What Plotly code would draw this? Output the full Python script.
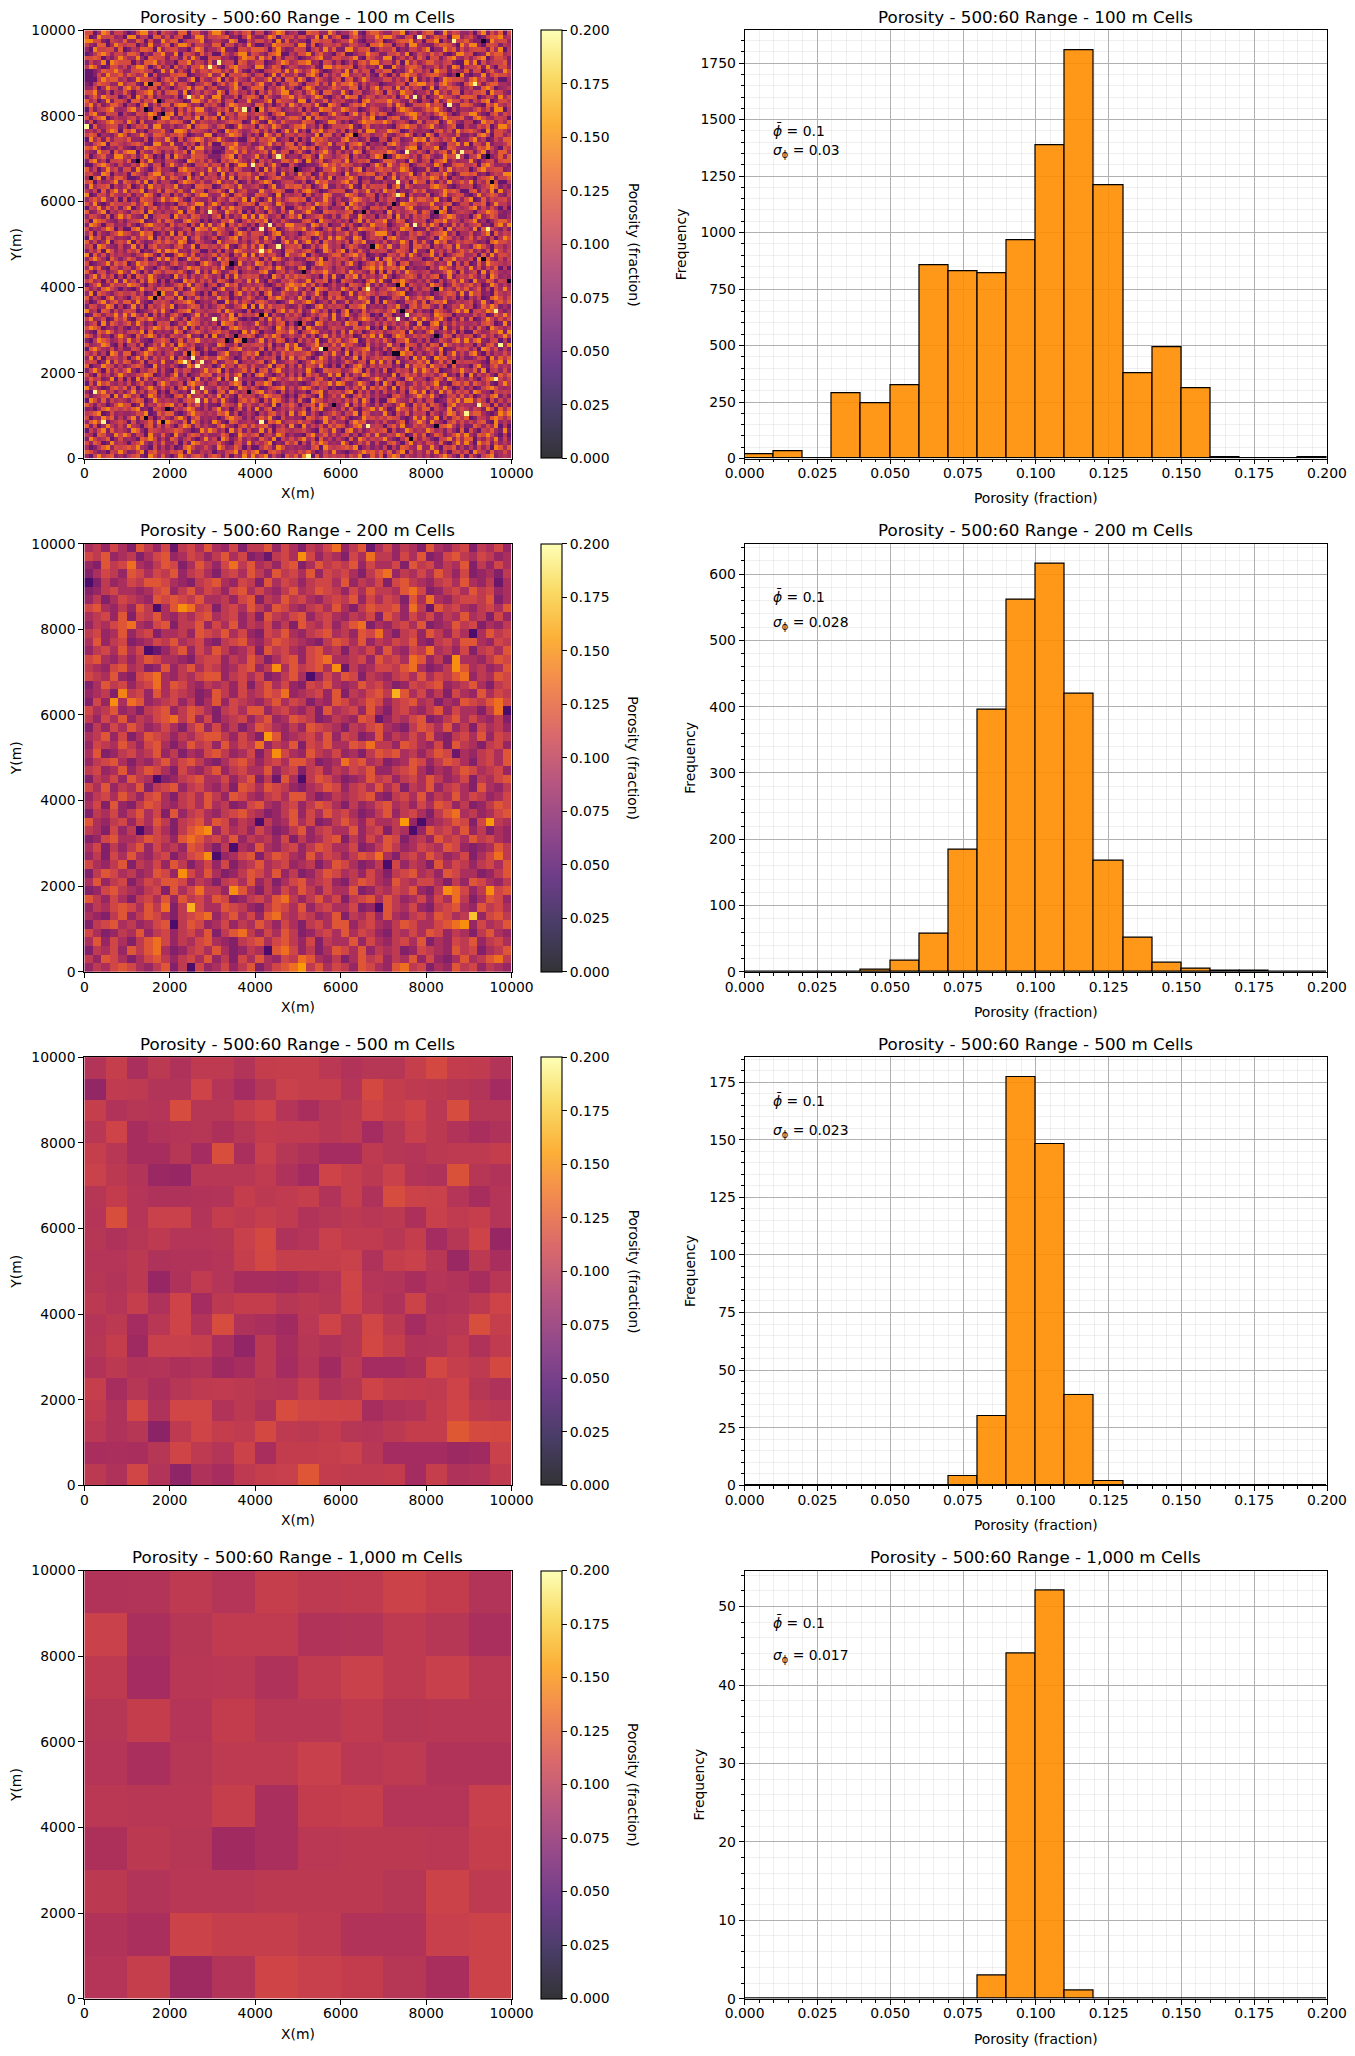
import plotly.graph_objects as go

FIG_W, FIG_H = 1355, 2056

# Layout of the four rows, in pixels
ROW_TOPS = [30.3, 543.7, 1057.1, 1570.5]
AXES_H = 428.2
MAP_X = (84.3, 511.6)
BAR_X = (541.2, 562.4)
HIST_X = (744.6, 1327.0)

CELL_SIZES = [100, 200, 500, 1000]
CELL_LABELS = ["100 m", "200 m", "500 m", "1,000 m"]

# Shade classes used by the two finest grids (porosity, fraction)
SHADES_100 = {"1": .058, "2": .072, "3": .082, "4": .09, "5": .10,
              "6": .108, "7": .115, "8": .125, "9": .145}
SHADES_200 = {"2": .06, "3": .072, "4": .082, "5": .092, "6": .102,
              "7": .112, "8": .122, "9": .136}
BRIGHT = .195
DARK = .012

# 100 m grid, top row first
GRID_100 = """
7714982663 1279936175 4288177326 9951364782 6613798245 1187733962 4479216885 3377914526 8812947633 5169274817
8129667341 9925518837 2671149936 6778231594 2259816673 7734919268 1168425597 9963277148 2486719935 7312688945
9977216548 3386172295 8814667923 5532981174 7746192835 3318867724 6695214478 1247889361 7791532668 4228196773
6328814975 7714293368 1599726643 8817625394 1143987762 9928136657 3376441889 7715629943 2268874195 9931776254
3196677281 2548871936 7733169824 4692217758 8861594237 6615739482 2994778136 5581326647 9133968274 6776284915
1258973664 8861427793 3917752846 1185369927 6427891153 7792684316 8113559762 2668491375 4857213996 7123968845
7787142596 4493187762 6628395117 7734216988 3958172664 1246893377 5579218643 9914637285 1772589436 3689147752
2634919877 7152889463 4177936528 2956618734 7712369845 8893417625 1362785994 6628194735 8854672119 4917356682
5983127746 2699714835 1846277953 7315896642 9924871365 3347219968 7781563429 1195378862 4473629815 6682941773
1124877963 3778651294 9263184775 8847396215 2156783949 7469831256 3928477165 8813269574 6197725438 2771584396
1127396684 8645917233 7788124569 3491766852 6713928447 2289517364 9945637218 4162897735 7885413692 1339268775
1116978845 2397764158 5822691743 6917385428 4469271883 9713864257 1782596334 7736481925 2614987763 8957326114
2158763394 6721948835 9376214587 1584792663 7932615488 4166837295 8897263541 2346718899 5738964217 9172688443
3371496628 9583277164 1467938825 7223695148 8815479362 1697243586 4488152793 7729384651 3916587724 6228971345
7793261548 4156893727 8829146375 3961784526 1738469925 6279518843 9416723586 1853976244 7294638815 4778196632
2584976613 7196382544 3617885942 9924371688 6185327794 7536982146 2988147635 6471593827 1359764288 8713652947
8461392775 1883769426 7541299638 5826714493 3479186652 9917348265 6324189577 7966328415 4182597736 2648913775
6937248851 5417926388 2899634175 7316985542 8825147396 3674921985 1268793544 4839612777 9576143288 7321869546
1725689434 8946317725 6173859942 4758296316 1937862454 7162398845 9855124763 2417986335 8796315244 3684729915
4893276615 3276598148 9184627763 2917638845 7641589233 4838712695 3169472858 7124589963 5379841266 9942168375
7268913544 6735481299 3527749186 8193647725 2974153688 6192875346 7754386912 1688237945 4125967783 2897436651
2714589763 9618234775 8872193654 5346877129 7219638544 3876124995 2413698877 9735641282 6681497325 5129783648
9183467725 1476829933 5246917885 3782149656 1864973258 8945271366 6792158343 4216897735 7942368115 3375814996
4536279818 7924156683 1998376542 6219785347 8372615949 2518694773 7163829945 5987126434 3168472957 8641927753
6871432597 2459638874 7685124399 1436987252 5197382664 7643918825 1892476355 8325796141 9716543822 4289617735
1947283665 8332716549 4172689835 7953241168 3768924517 1529786343 8945237116 6177234989 2864759133 7935126488
3268917754 5786219943 9227461738 1186794352 2569473881 7413865926 6278951434 1896347725 8542176939 1763924458
8795124363 2143987566 6831729945 2216985743 7935214688 4968157322 9174628355 7325489916 5691287433 2487963175
5329671848 9917438625 3758196624 1127694835 4682937715 8316479526 2539814767 6983125474 1747829356 7269153884
7146832995 4725961318 1964387752 2268917345 9351678244 2784196535 7816342698 3159874627 8423967151 5691724838
2893516674 8157393426 6421985737 3175896428 1746238859 6193582477 4925768113 8873419625 7168925344 9314672788
1158974263 3649827715 9537216684 7628149935 6825941173 1122379685 8763421596 2954871367 4396127885 5718963342
8361495727 7295316844 2189764539 4957286331 7193825468 1346127795 3628915478 6745983122 8217394656 1489567723
6732981545 1864279935 7356814926 5192637784 3846719252 9571283664 1934768825 7283569148 2675941388 7823146599
4279163885 1126587493 8741936265 6382917574 9125784336 7848263915 5796134288 1492637857 6983715424 3157892668
7815346928 6483917255 2169874733 7935481262 4798125663 2613978445 8947156232 5338461977 1726394585 9264837115
2946781535 8137295646 5924318877 1278639445 6315924878 8471369225 3592184766 7169285344 4897621355 6135798242
5361827949 3769154828 7483296615 6841925733 2954786116 3896412577 7128459363 9671324858 2345978611 7826491935
9127638544 7254983166 1638527994 3496178522 8763192545 6172549833 4986237715 2587916343 8136945772 1494687326
3685942717 1428763595 8962174336 2753864919 5149273688 7816349525 2379854616 4761329588 6592418737 9128365674
"""

GRID_100 += """
7492138665 5836971242 3178469925 9624315787 1875296346 4263978515 8197463252 3612987745 5934781266 2768149553
1659384727 9147268353 6823791548 4185967322 7396428115 8579136244 2948631775 7165489323 3782916545 8926374151
8237915464 2768194535 4591872636 7329648151 6418527393 3694218775 5781396244 1936457828 7249813565 4156987323
3764281595 8432915676 1956387442 6817254939 2973461585 9145783262 7832964515 4819362757 6125798434 1793586224
6198743252 5679124838 7328965141 4276931585 8691537422 2784196535 3516928477 9248713656 1387946525 7924136885
2985167343 7314896552 8465172939 3691748525 1738264996 6529847133 8472153966 7135692848 4961528373 5682317949
7243698151 1892536747 5236719884 9763482151 4527913686 7936215848 2164987735 6354987122 8247193665 3918764252
4816325797 6349781252 9182637545 2854169737 7613892454 1478963525 5837214699 9416327585 2578936144 7236918465
1957286343 2846591737 3769158424 7135892646 6294718353 5861273949 7329814656 1895347622 4619873525 8374261597
8362491575 9174236858 6498127533 1946783525 8375216949 2693718546 4718692353 7254961838 3196824757 6423189775
5719843262 3927168454 2683491775 6479215838 3914582676 8127369545 1586324797 4932761885 7153682944 2897416535
2648197353 7581326949 8934276115 2716398545 7269431885 4685129737 9173842656 6248751933 1946372585 8352719646
9183726454 4256983171 1697382545 8375164929 2846731955 7916423588 3689571242 1764839525 5927136884 4618293775
3796418525 8623714959 4712968335 1958327646 6173984252 3278591646 7526483191 8947326551 2381769454 7195842636
7124593868 1397856242 6845231797 4287619353 9836142575 5312897646 2794136858 3961782445 8635491727 1283976545
4958217636 6279431585 2136978454 7492163585 1578396242 8916347525 6423178959 5786914233 1649852773 9372648151
8316724595 3951628747 7584139262 9623781454 4892157363 2148679535 7395642818 1827396545 6234795183 5719286434
2693847151 7186495323 1947263585 3518294676 7241963858 6753418292 1869274535 9413578626 4781392565 8526197343
6845173929 4628397151 5219683747 2874156393 9317426585 3492768151 8652317949 2187964353 7316258494 1943872657
1479238565 9873164252 3684927515 7139682454 5621374898 7948251363 4187539262 6328917545 2975138646 8461297353
7352896414 2149563878 8271396545 1693472858 3857214969 4261987353 9736184525 5894271636 7219463858 3582617494
3918642575 5736128494 4926783151 8245179363 6179238545 2835941767 1392758646 7468912353 4135687292 9672318545
8264179353 1685492737 7291538464 3967142585 2418697353 9517362848 6243985171 1276394585 8923746151 5361289747
5127936848 8394216575 2568971343 6119483752 7863412595 4796135282 3825469171 9541276838 1687923545 7249316858
2763498151 3926174585 9143687252 4783256919 1948567323 7312894656 5176892434 2659317848 8427136595 6138597242
9451872636 7612358494 1378926545 5829643171 3265179484 8249736151 6914283575 4793168252 3186427959 1675983424
1287365949 4953817262 6841259373 2374918565 8591632747 5136478292 7942586131 8613294575 5298761434 3746128595
6934712858 2178695343 9527186434 7465982131 1729483565 3684175292 4163798525 2857316949 6379415282 8125963747
3571928646 8395241767 1264987353 5198726434 9426378151 6721983545 2978145363 7463582191 1892637454 4537861292
7986134252 1427369858 5839172646 3612897545 2754196383 8196342575 5328769141 9137462858 4761925383 6284197535
4218697353 6759182434 2971468535 7856231949 6143287595 1579834262 8294613757 3576819242 7924638151 1853476929
8627341595 3184796252 7546923181 9237415686 1385972464 4826159373 7461285939 2169834757 5392871646 7138462595
2159863474 9473215686 1382769545 4675198232 5926387141 7364912858 3589127464 8416793252 6127538949 4893267151
7345982161 5628137494 8197462353 2984371656 7638142959 1257936484 9674218353 4935187626 2871964535 5162783949
1896437252 2761398545 4953681272 6321789454 3817265949 9428713656 1735689242 7286491535 8549123767 3619847252
6472519838 8146973525 7328596141 1579342686 9142638575 5683127494 2917485363 1364978252 4728159363 8931625474
3928175646 1593827464 9174263585 5986412737 2465718393 7831496252 6249183575 8752361949 3197846252 2476193858
5761392848 7248165393 2695817434 8237691454 6814923575 1369785242 4852671939 3719246585 9148372656 6542187939
8134976252 4786219353 6312978545 1495628737 4359178262 8276493151 7138952646 5624193878 2965718343 1793268454
2695183747 9315478262 1847623595 7916245838 1782694353 5394128767 3469817252 8137562949 7481236595 4829156373
7318462595 3467981252 5926134878 2648379151 8953147262 6185723949 1726498353 4291685737 5637924181 9264731858
4856239171 6192837545 8743619252 5918276343 2317964585 9642783151 5874123696 2763189454 1486297353 7315892646
1729684353 7258341696 3461897525 6243798151 7698125434 2137856949 8325974161 9518623747 4692317858 3864721595
9463127858 2814695373 6179382454 3856129747 4125789363 7984265131 1637492858 6291738545 8374951262 5126897434
3187946252 5936278141 7524186393 1782963585 8936417252 3417892656 4891736252 7352618949 1629483757 2984317565
6245781939 8461397252 1783945626 4927318565 2598673141 6853192474 9216847353 3178524696 5941267383 7136489252
1973826454 2687139545 4526871393 7394216858 5173984262 8219763545 3748296151 1895437262 6712385949 9485172636
8526413797 7139254868 9361748252 2186539474 3742916585 1568297343 5917384262 7426931858 2863179454 4397618252
2314896757 5892317646 1647983252 6935148272 9268135474 4718692353 7283156949 5129763848 8164392575 3652971848
5689127343 3476912858 8213796545 4879261353 1537846292 7926314585 2659187343 9317482656 1742598363 6884213979
7143968252 6928351474 2795168343 4138976252 6859217343 3187469525 8412396757 5876213949 3491627858 1265389747
3896214575 1724583969 7538196242 9621873454 2418793565 8563129474 4169782353 7325814696 2953168474 6478219353
8271495363 9541682737 4169827353 2795316848 5783146292 1936472858 7248931565 1684923757 4317895262 2863749151
1637928454 2983176545 6874312959 7351948262 3928167545 5742186393 1893624757 8162397454 9745263181 7316584292
5418732969 7265194383 1942687353 3486129757 8156397242 2179458363 6725148393 3659712848 1386247959 4287963151
2964581373 4318796252 8625731494 6197248353 2853916474 7946183525 3182974656 9421586737 5216793848 8153749262
7386129454 1579426383 3716298545 5842167393 6479132858 1628597343 9513748262 2784169353 7638215949 4196827353
4125893767 8694317252 5128963474 2973486151 1586297343 4327819656 7869135242 6152874393 3941768252 5273619848
8742316595 2369178454 7681932545 1436792858 9217863454 7584126393 2134697858 4826917353 8392516747 1965283474
3169578242 5782196383 1495378626 8627153949 4792631858 3941827565 6375912848 1798264353 5247963181 7316892454
"""

# Cells far outside the usual spread, as (column, row from the top)
BRIGHT_100 = [(29,8),(31,7),(24,15),(37,18),(0,22),(45,29),(39,31),(29,42),(43,45),(41,46),
              (78,1),(86,2),(91,12),(77,15),(85,17),(75,28),(88,28),(87,29),(73,35),(73,38),(77,45),(94,46),
              (30,67),(23,77),(25,76),(26,78),(27,77),(35,81),(27,83),(25,84),(2,84),(26,86),(4,91),(41,91),(45,50),(41,51),
              (66,60),(96,65),(75,66),(73,67),(97,73),(55,74),(96,81),(92,87),(89,89),(66,92),(52,99)]
DARK_100 = [(15,12),(17,16),(14,18),(40,18),(18,19),(16,20),(12,30),(1,34),(49,32),
            (93,2),(87,10),(63,24),(70,29),(94,29),(95,35),(72,40),(65,42),(82,42),
            (34,54),(17,61),(16,62),(41,66),(35,71),(33,72),(37,72),(24,75),(38,84),(19,88),(14,90),(18,91),
            (67,50),(93,53),(51,56),(99,58),(73,59),(82,60),(74,65),(50,68),(82,71),(56,74),(72,75),(73,75),(86,77),(58,87),(82,92),(76,95)]

# 200 m grid, top row first
GRID_200 = """
56475 38647 26758 54736 68475 36579 46825 74653 85467 36574
76845 63578 45764 68573 42675 87465 37596 64758 34786 57645
43867 95468 73586 47968 56478 35867 68475 57386 74658 36475
35764 87576 84675 36758 64867 58476 75368 94657 58647 34536
23645 76887 54367 85476 38576 46775 84657 37865 46758 54625
34675 54578 46857 64785 75468 56876 47586 65897 34675 86745
46357 65487 87685 56478 36586 75467 68475 76385 95467 76835
78546 48675 84967 36758 64875 46758 53687 78496 28675 46758
56748 37685 46578 56746 38657 84675 46573 86475 74658 56374
46578 95478 36684 75846 57463 86574 68935 46758 34586 73546
67458 46735 56487 68574 37685 46785 64879 53674 86475 25867
58467 34576 85674 36785 46876 54368 75846 57684 36758 85476
46758 57324 68475 86457 38675 47856 36574 85476 95647 36758
78546 46875 54367 74658 63578 47895 56748 67598 46375 54687
65478 56348 46857 64578 46758 67853 26457 76895 34678 56458
76584 37895 46578 84675 73468 56475 87365 46758 57689 46587
35867 46795 87546 56473 68574 37685 45867 53476 78456 85367
45638 67485 76534 86475 68794 56748 36578 64857 46375 48576
37485 98456 74635 84765 46857 63548 75687 46785 63548 76897
75684 53678 46875 36758 84675 46385 67485 36754 68475 53692
64758 46578 96847 35674 68458 76346 54872 46578 34685 75463
36475 86457 53684 74635 87546 48765 36578 54368 75846 37564
56847 35876 46578 86475 39845 67584 76348 46575 84367 58476
47658 64785 35867 48576 94658 37685 58796 64875 47386 53674
58346 75684 63547 86457 36875 48657 45368 78564 68725 46758
46785 35468 57864 35786 46758 86345 97856 34587 46875 36758
67458 46875 37546 84675 58467 36746 57684 46785 35468 75674
36574 86573 46785 57468 36285 46875 34586 74675 86457 36578
75846 58367 84675 46387 58764 35687 46758 57365 84675 38546
46758 64785 36758 64875 46758 85346 56784 36758 46585 76457
57384 36875 46758 56347 85467 46875 36457 85647 58746 34687
36574 68573 84675 46786 53468 47586 75346 84675 36895 64578
85467 47586 36785 87465 36458 57346 86475 56748 45687 37865
65374 68475 36895 47564 75346 84675 58467 36574 86758 46354
34785 56876 48986 75846 56473 64578 36475 87356 48675 86754
57364 68475 64875 36754 85467 46875 57346 86457 65874 34586
46375 85467 35786 64578 36875 48576 46879 53675 86457 35796
75468 36574 86357 47356 85674 56358 75346 87465 38576 46758
36875 64587 46758 53468 75846 34687 56475 36785 64875 53468
58467 35768 87465 36758 46357 85674 36875 48657 75364 87546
34786 54673 85796 64785 36475 86475 58346 57684 36897 46578
86475 36758 48675 87346 75896 46857 36785 86457 47596 35874
46578 75869 36475 58764 36875 84675 57346 86574 36785 48675
54368 46875 36789 46857 48965 76458 36574 85467 58756 34786
36785 64578 36874 57465 86475 36758 84675 46875 57896 47568
75346 58467 46758 36896 47586 34675 85764 36575 87465 36854
58475 36897 46578 54367 85786 47365 58475 46758 35476 84675
36574 86895 34675 85346 57897 46358 75846 56347 65486 73568
64875 35786 46758 46375 85476 98546 35867 46584 74358 56896
46578 75468 36874 57468 35789 46857 64875 48967 35486 74654
"""

ORANGE_200 = [(45,43),(36,17),(12,42),(22,14),(43,13),(43,14),(29,14),(11,7),(21,22),(22,24),(37,32),(47,32),
              (14,33),(14,36),(11,38),(17,40),(42,40),(47,40),(25,49),(44,44),(25,1),(3,18),(4,17)]
ORANGE_200_VALUES = [.172,.165,.165,.15,.15,.15,.15,.15,.155,.15,.155,.155,
                     .15,.15,.15,.15,.15,.15,.155,.15,.15,.15,.145]
DARK_200 = [(7,12),(8,7),(8,27),(26,15),(25,27),(6,33),(15,36),(17,35),(20,32),(38,33),(39,32),(45,10),
            (0,4),(10,44),(12,49),(21,47),(34,42),(35,37),(49,19)]

# 500 m grid in thousandths, top row first
GRID_500 = [
    [96,106,92,101,94,102,102,96,105,106,106,100,95,98,98,106,114,104,103,96],
    [80,103,102,96,96,110,97,89,98,108,106,106,97,114,105,102,101,98,96,88],
    [106,95,98,97,116,98,98,105,110,97,91,98,101,110,106,110,100,116,98,98],
    [99,110,90,95,97,98,93,98,104,103,103,99,102,89,98,107,101,95,91,94],
    [106,99,90,90,98,89,117,92,107,98,94,89,89,102,98,97,101,102,102,105],
    [108,101,96,83,82,99,99,99,103,94,88,110,106,101,108,96,94,119,98,95],
    [98,104,97,94,94,95,96,105,101,103,106,95,106,94,116,109,108,97,90,97],
    [97,117,97,108,108,96,105,102,106,103,95,98,101,99,101,93,107,103,106,97],
    [98,94,98,102,97,97,98,107,114,94,97,107,103,103,99,105,89,98,110,82],
    [97,97,101,94,95,95,97,106,113,106,106,106,108,94,106,108,99,83,101,91],
    [98,96,101,82,94,103,97,90,90,89,93,97,111,97,96,91,97,95,90,99],
    [101,97,106,94,110,89,101,105,105,98,101,98,110,99,94,109,94,96,101,110],
    [97,101,89,99,110,95,116,94,92,87,100,110,98,112,101,89,97,99,117,106],
    [98,105,86,107,107,106,92,79,101,90,98,94,98,113,106,95,96,103,94,103],
    [95,101,95,96,93,95,86,90,101,89,97,87,101,89,89,93,113,106,102,114],
    [106,90,98,92,98,102,103,101,98,97,106,94,98,110,105,104,103,110,98,94],
    [103,94,113,94,112,112,95,101,94,116,112,111,110,90,94,96,104,111,102,100],
    [100,94,98,77,102,111,105,103,114,102,101,104,98,97,101,105,105,123,115,114],
    [91,92,91,98,111,102,97,109,91,104,104,106,108,99,89,89,89,85,87,108],
    [101,94,112,96,78,94,90,102,106,107,122,104,103,103,104,89,106,94,96,103],
]

# 1,000 m grid in thousandths, top row first
GRID_1000 = [
    [95,96,102,97,106,102,103,109,104,96],
    [108,92,98,103,103,95,96,102,98,92],
    [102,89,99,100,94,103,108,102,107,100],
    [98,105,97,104,99,99,103,98,99,99],
    [97,92,98,102,102,107,100,102,95,95],
    [100,99,99,106,92,104,106,97,97,107],
    [93,101,98,87,92,100,101,101,100,106],
    [101,96,99,99,101,101,101,98,109,102],
    [95,92,109,106,106,102,95,95,107,109],
    [97,106,86,96,111,107,104,98,91,109],
]

# Histogram counts per 0.01 wide bin from 0.00 to 0.20
BIN_STARTS = [0.00, 0.01, 0.02, 0.03, 0.04, 0.05, 0.06, 0.07, 0.08, 0.09,
              0.10, 0.11, 0.12, 0.13, 0.14, 0.15, 0.16, 0.17, 0.18, 0.19]
COUNTS_100 = [17, 30, 0, 290, 245, 325, 855, 828, 820, 965, 1385, 1805, 1210, 375, 490, 312, 4, 3, 3, 4]
COUNTS_200 = [0, 0, 0, 0, 4, 17, 58, 185, 396, 562, 615, 420, 168, 52, 14, 5, 2, 2, 0, 0]
COUNTS_500 = [0, 0, 0, 0, 0, 0, 0, 4, 30, 177, 148, 39, 2, 0, 0, 0, 0, 0, 0, 0]
COUNTS_1000 = [0, 0, 0, 0, 0, 0, 0, 0, 3, 44, 52, 1, 0, 0, 0, 0, 0, 0, 0, 0]
ALL_COUNTS = [COUNTS_100, COUNTS_200, COUNTS_500, COUNTS_1000]

MEANS = ["0.1", "0.1", "0.1", "0.1"]
STDEVS = ["0.03", "0.028", "0.023", "0.017"]
MEAN_LABEL_Y = [1430, 560, 165, 47.4]
STD_LABEL_Y = [1345, 520, 152, 43.2]
Y_MAJOR = [250, 100, 25, 10]
Y_MINOR = [50, 20, 5, 2]

INFERNO = ["#000004", "#1b0c41", "#4a0c6b", "#781c6d", "#a52c60",
           "#cf4446", "#ed6925", "#fb9b06", "#f7d13d", "#fcffa4"]
BAR_ALPHA = 0.8


def washed(hex_color, alpha):
    rgb = [int(hex_color[i:i + 2], 16) for i in (1, 3, 5)]
    return "rgb(%d,%d,%d)" % tuple(round(c * alpha + 255 * (1 - alpha)) for c in rgb)


MAP_SCALE = [[i / 9, c] for i, c in enumerate(INFERNO)]
BAR_SCALE = [[i / 9, washed(c, BAR_ALPHA)] for i, c in enumerate(INFERNO)]


def decode(text, size, shades):
    rows = []
    for line in text.split("\n"):
        digits = line.replace(" ", "")
        if digits:
            digits = (digits + "6" * size)[:size]
            rows.append([shades[ch] for ch in digits])
    return rows[:size]


z_100 = decode(GRID_100, 100, SHADES_100)
for col, row in BRIGHT_100:
    z_100[row][col] = BRIGHT
for col, row in DARK_100:
    z_100[row][col] = DARK

z_200 = decode(GRID_200, 50, SHADES_200)
for (col, row), value in zip(ORANGE_200, ORANGE_200_VALUES):
    z_200[row][col] = value
for col, row in DARK_200:
    z_200[row][col] = .045

z_500 = [[v / 1000 for v in row] for row in GRID_500]
z_1000 = [[v / 1000 for v in row] for row in GRID_1000]
ALL_GRIDS = [z_100, z_200, z_500, z_1000]


def xfrac(px):
    return px / FIG_W


def yfrac(px):
    return 1 - px / FIG_H


TICK_FONT = dict(family="DejaVu Sans", size=13.9, color="black")
LABEL_FONT = dict(family="DejaVu Sans", size=13.9, color="black")
AXIS_STYLE = dict(showline=True, mirror=True, linecolor="black", linewidth=1.1,
                  ticks="outside", ticklen=4.9, tickwidth=1.1, tickcolor="black",
                  tickfont=TICK_FONT, zeroline=False)
MAJOR_GRID = "#b0b0b0"
MINOR_GRID = "rgba(176,176,176,0.2)"

fig = go.Figure()
layout = dict(width=FIG_W, height=FIG_H, autosize=False, paper_bgcolor="white",
              plot_bgcolor="white", margin=dict(l=0, r=0, t=0, b=0, pad=0, autoexpand=False),
              showlegend=False, bargap=0, font=dict(family="DejaVu Sans", color="black"))
notes = []

for i in range(4):
    top = ROW_TOPS[i]
    domain_y = [yfrac(top + AXES_H), yfrac(top)]
    title = f"Porosity - 500:60 Range - {CELL_LABELS[i]} Cells"
    xm, ym = f"x{2 * i + 1}", f"y{2 * i + 1}"
    xh, yh = f"x{2 * i + 2}", f"y{2 * i + 2}"
    cell = CELL_SIZES[i]

    # Porosity map, stored top row first
    fig.add_trace(go.Heatmap(z=ALL_GRIDS[i][::-1], x0=cell / 2, dx=cell, y0=cell / 2, dy=cell,
                             zmin=0, zmax=0.2, colorscale=MAP_SCALE, showscale=False,
                             xaxis=xm, yaxis=ym, hoverinfo="skip"))

    # The colour bar is paler than the map, so it hangs off its own hidden marker
    fig.add_trace(go.Scatter(x=[5000], y=[5000], mode="markers", xaxis=xm, yaxis=ym, hoverinfo="skip",
                             marker=dict(size=1, opacity=0, color=[0.1], cmin=0, cmax=0.2,
                                         colorscale=BAR_SCALE, showscale=True,
                                         colorbar=dict(x=xfrac(BAR_X[0]), xanchor="left", xpad=0, ypad=0,
                                                       y=yfrac(top + AXES_H / 2), yanchor="middle",
                                                       len=AXES_H / FIG_H, lenmode="fraction",
                                                       thickness=BAR_X[1] - BAR_X[0], thicknessmode="pixels",
                                                       outlinecolor="black", outlinewidth=1.1,
                                                       tick0=0, dtick=0.025, tickformat=".3f",
                                                       ticks="outside", ticklen=4.9, tickwidth=1.1,
                                                       tickcolor="black", tickfont=TICK_FONT))))

    # Frequency histogram
    counts = ALL_COUNTS[i]
    fig.add_trace(go.Bar(x=[s + 0.005 for s in BIN_STARTS], y=counts, width=0.01,
                         marker=dict(color="rgba(255,140,0,0.9)", line=dict(color="black", width=1.2)),
                         xaxis=xh, yaxis=yh, hoverinfo="skip"))

    layout[f"xaxis{2 * i + 1}"] = dict(domain=[xfrac(MAP_X[0]), xfrac(MAP_X[1])], range=[0, 10000],
                                       anchor=ym, dtick=2000, tickformat="d", showgrid=False,
                                       ticklabelstandoff=-3,
                                       title=dict(text="X(m)", font=LABEL_FONT, standoff=8), **AXIS_STYLE)
    layout[f"yaxis{2 * i + 1}"] = dict(domain=domain_y, range=[0, 10000], anchor=xm, dtick=2000,
                                       tickformat="d", showgrid=False,
                                       title=dict(text="Y(m)", font=LABEL_FONT, standoff=6), **AXIS_STYLE)
    layout[f"xaxis{2 * i + 2}"] = dict(domain=[xfrac(HIST_X[0]), xfrac(HIST_X[1])], range=[0, 0.2],
                                       anchor=yh, tick0=0, dtick=0.025, tickformat=".3f",
                                       showgrid=True, gridcolor=MAJOR_GRID, gridwidth=1.4,
                                       ticklabelstandoff=-3,
                                       minor=dict(dtick=0.005, tick0=0, showgrid=True, gridcolor=MINOR_GRID,
                                                  gridwidth=1.4, ticks="outside", ticklen=2.8,
                                                  tickwidth=0.8, tickcolor="black"),
                                       title=dict(text="Porosity (fraction)", font=LABEL_FONT, standoff=13),
                                       **AXIS_STYLE)
    layout[f"yaxis{2 * i + 2}"] = dict(domain=domain_y, range=[0, max(counts) * 1.05], anchor=xh,
                                       tick0=0, dtick=Y_MAJOR[i],
                                       showgrid=True, gridcolor=MAJOR_GRID, gridwidth=1.4,
                                       minor=dict(dtick=Y_MINOR[i], tick0=0, showgrid=True, gridcolor=MINOR_GRID,
                                                  gridwidth=1.4, ticks="outside", ticklen=2.8,
                                                  tickwidth=0.8, tickcolor="black"),
                                       title=dict(text="Frequency", font=LABEL_FONT, standoff=10), **AXIS_STYLE)

    title_font = dict(family="DejaVu Sans", size=16.7, color="black")
    for centre in ((MAP_X[0] + MAP_X[1]) / 2, (HIST_X[0] + HIST_X[1]) / 2):
        notes.append(dict(text=title, x=xfrac(centre), y=yfrac(top - 1.5), xref="paper", yref="paper",
                          xanchor="center", yanchor="bottom", showarrow=False, font=title_font))

    notes.append(dict(text="Porosity (fraction)", x=xfrac(633.5), y=yfrac(top + AXES_H / 2),
                      xref="paper", yref="paper", xanchor="center", yanchor="middle",
                      textangle=90, showarrow=False, font=LABEL_FONT))

    notes.append(dict(text=f"<i>\u03d5\u0304</i> = {MEANS[i]}", x=0.01, y=MEAN_LABEL_Y[i],
                      xref=xh, yref=yh, xanchor="left", yanchor="bottom", xshift=-3, yshift=-6,
                      showarrow=False, font=LABEL_FONT))
    notes.append(dict(text=f"<i>\u03c3</i><sub>\u03d5</sub> = {STDEVS[i]}", x=0.01, y=STD_LABEL_Y[i],
                      xref=xh, yref=yh, xanchor="left", yanchor="bottom", xshift=-3, yshift=-7,
                      showarrow=False, font=LABEL_FONT))

layout["annotations"] = notes
fig.update_layout(**layout)
fig.write_html("out.html")
